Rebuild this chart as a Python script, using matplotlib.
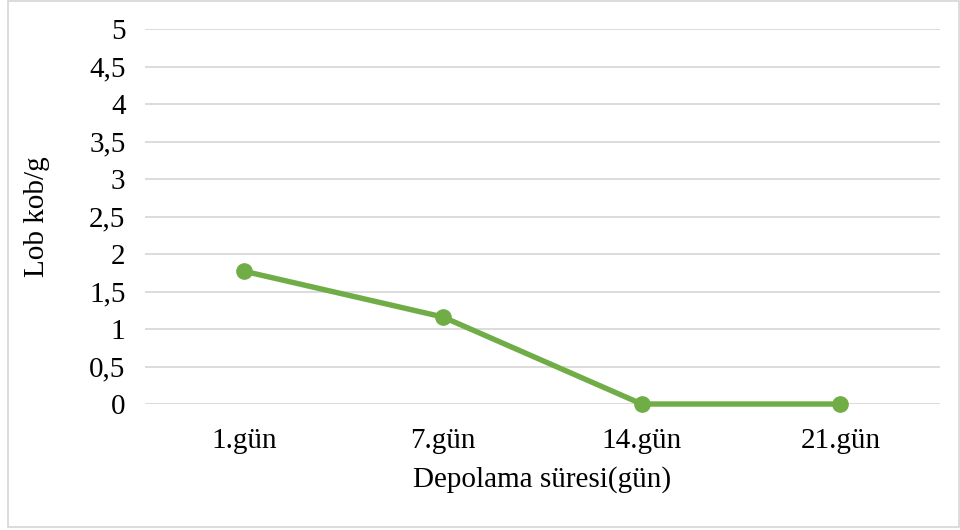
import matplotlib.pyplot as plt
from matplotlib.patches import Rectangle
from matplotlib.ticker import FuncFormatter

plt.rcParams['font.family'] = ['Liberation Serif', 'DejaVu Serif']

# veriler
gunler = ["1.gün", "7.gün", "14.gün", "21.gün"]
degerler = [1.77, 1.16, 0, 0]
y_ticks = [0, 0.5, 1, 1.5, 2, 2.5, 3, 3.5, 4, 4.5, 5]

fig = plt.figure(figsize=(9.6, 5.3), dpi=100)
ax = fig.add_axes([0.151, 0.2377, 0.828, 0.7075])

x = list(range(len(gunler)))
ax.plot(x, degerler, color='#70AD47', linewidth=3.9, marker='o', markersize=11,
        solid_capstyle='round', zorder=3, clip_on=False)

ax.set_xlim(-0.5, len(gunler) - 0.5)
ax.set_ylim(0, 5)
ax.set_yticks(y_ticks)
ax.yaxis.set_major_formatter(FuncFormatter(lambda v, p: f"{v:g}".replace('.', ',')))
ax.set_xticks(x)
ax.set_xticklabels(gunler)

ax.grid(axis='y', color='#D9D9D9', linewidth=1.3)
ax.set_axisbelow(True)
for s in ax.spines.values():
    s.set_visible(False)
ax.tick_params(length=0, labelsize=21, colors='black')
ax.tick_params(axis='y', pad=14)
ax.tick_params(axis='x', pad=17)

ax.set_ylabel("Lob kob/g", fontsize=21, labelpad=28)
ax.set_xlabel("Depolama süresi(gün)", fontsize=21, labelpad=9)

# dış çerçeve
fig.patches.append(Rectangle((8 / 960, 3 / 530), 951 / 960, 526 / 530, transform=fig.transFigure,
                             fill=False, edgecolor='#D9D9D9', linewidth=1.3))

plt.savefig("out.png", dpi=100)
